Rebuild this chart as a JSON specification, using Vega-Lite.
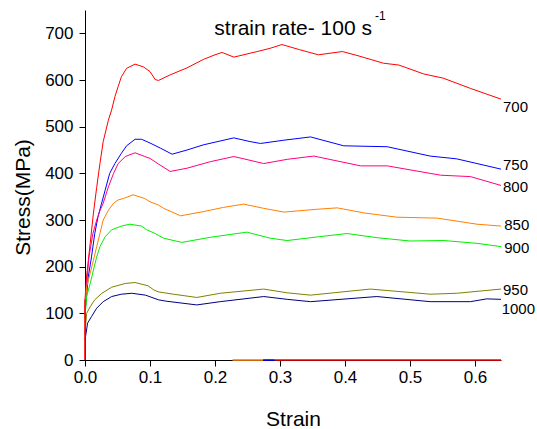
{
  "$schema": "https://vega.github.io/schema/vega-lite/v6.json",
  "width": 416,
  "height": 350,
  "autosize": {"type": "none"},
  "padding": {"left": 85, "top": 10, "right": 36, "bottom": 69},
  "background": "white",
  "config": {
    "view": {"stroke": null},
    "font": "Liberation Sans",
    "axis": {"grid": false, "domainColor": "black", "tickColor": "black", "labelColor": "black", "titleColor": "black", "labelFont": "Liberation Sans", "titleFont": "Liberation Sans", "titleFontWeight": "normal", "domainWidth": 1, "tickWidth": 1}
  },
  "datasets": {
    "curves": [
      {"T": "700", "s": 0, "v": 130}, {"T": "700", "s": 0.0025, "v": 180}, {"T": "700", "s": 0.008, "v": 250}, {"T": "700", "s": 0.013, "v": 315}, {"T": "700", "s": 0.018, "v": 370}, {"T": "700", "s": 0.023, "v": 421}, {"T": "700", "s": 0.028, "v": 468}, {"T": "700", "s": 0.036, "v": 514}, {"T": "700", "s": 0.041, "v": 536}, {"T": "700", "s": 0.046, "v": 564}, {"T": "700", "s": 0.051, "v": 586}, {"T": "700", "s": 0.056, "v": 607}, {"T": "700", "s": 0.064, "v": 625}, {"T": "700", "s": 0.077, "v": 634}, {"T": "700", "s": 0.09, "v": 628}, {"T": "700", "s": 0.1, "v": 618}, {"T": "700", "s": 0.108, "v": 601}, {"T": "700", "s": 0.113, "v": 599}, {"T": "700", "s": 0.131, "v": 611}, {"T": "700", "s": 0.157, "v": 626}, {"T": "700", "s": 0.182, "v": 644}, {"T": "700", "s": 0.2, "v": 654}, {"T": "700", "s": 0.211, "v": 659}, {"T": "700", "s": 0.229, "v": 649}, {"T": "700", "s": 0.265, "v": 661}, {"T": "700", "s": 0.285, "v": 668}, {"T": "700", "s": 0.303, "v": 676}, {"T": "700", "s": 0.33, "v": 665}, {"T": "700", "s": 0.359, "v": 654}, {"T": "700", "s": 0.396, "v": 661}, {"T": "700", "s": 0.42, "v": 652}, {"T": "700", "s": 0.459, "v": 636}, {"T": "700", "s": 0.483, "v": 632}, {"T": "700", "s": 0.521, "v": 613}, {"T": "700", "s": 0.551, "v": 604}, {"T": "700", "s": 0.593, "v": 582}, {"T": "700", "s": 0.64, "v": 559},
      {"T": "750", "s": 0, "v": 100}, {"T": "750", "s": 0.005, "v": 178}, {"T": "750", "s": 0.01, "v": 221}, {"T": "750", "s": 0.015, "v": 271}, {"T": "750", "s": 0.02, "v": 307}, {"T": "750", "s": 0.025, "v": 333}, {"T": "750", "s": 0.031, "v": 364}, {"T": "750", "s": 0.038, "v": 400}, {"T": "750", "s": 0.046, "v": 421}, {"T": "750", "s": 0.056, "v": 443}, {"T": "750", "s": 0.064, "v": 459}, {"T": "750", "s": 0.077, "v": 473}, {"T": "750", "s": 0.087, "v": 473}, {"T": "750", "s": 0.1, "v": 465}, {"T": "750", "s": 0.116, "v": 454}, {"T": "750", "s": 0.134, "v": 441}, {"T": "750", "s": 0.157, "v": 450}, {"T": "750", "s": 0.182, "v": 461}, {"T": "750", "s": 0.229, "v": 476}, {"T": "750", "s": 0.254, "v": 468}, {"T": "750", "s": 0.27, "v": 464}, {"T": "750", "s": 0.306, "v": 471}, {"T": "750", "s": 0.347, "v": 478}, {"T": "750", "s": 0.398, "v": 459}, {"T": "750", "s": 0.465, "v": 457}, {"T": "750", "s": 0.531, "v": 437}, {"T": "750", "s": 0.572, "v": 431}, {"T": "750", "s": 0.64, "v": 409},
      {"T": "800", "s": 0, "v": 110}, {"T": "800", "s": 0.003, "v": 170}, {"T": "800", "s": 0.006, "v": 220}, {"T": "800", "s": 0.012, "v": 270}, {"T": "800", "s": 0.018, "v": 300}, {"T": "800", "s": 0.023, "v": 320}, {"T": "800", "s": 0.028, "v": 336}, {"T": "800", "s": 0.036, "v": 371}, {"T": "800", "s": 0.044, "v": 400}, {"T": "800", "s": 0.051, "v": 421}, {"T": "800", "s": 0.062, "v": 436}, {"T": "800", "s": 0.077, "v": 444}, {"T": "800", "s": 0.092, "v": 436}, {"T": "800", "s": 0.1, "v": 432}, {"T": "800", "s": 0.113, "v": 420}, {"T": "800", "s": 0.131, "v": 404}, {"T": "800", "s": 0.157, "v": 411}, {"T": "800", "s": 0.193, "v": 425}, {"T": "800", "s": 0.229, "v": 436}, {"T": "800", "s": 0.275, "v": 421}, {"T": "800", "s": 0.311, "v": 430}, {"T": "800", "s": 0.352, "v": 437}, {"T": "800", "s": 0.424, "v": 416}, {"T": "800", "s": 0.465, "v": 416}, {"T": "800", "s": 0.547, "v": 396}, {"T": "800", "s": 0.593, "v": 393}, {"T": "800", "s": 0.64, "v": 374},
      {"T": "850", "s": 0, "v": 100}, {"T": "850", "s": 0.0025, "v": 157}, {"T": "850", "s": 0.008, "v": 186}, {"T": "850", "s": 0.013, "v": 214}, {"T": "850", "s": 0.018, "v": 243}, {"T": "850", "s": 0.023, "v": 271}, {"T": "850", "s": 0.028, "v": 300}, {"T": "850", "s": 0.036, "v": 321}, {"T": "850", "s": 0.044, "v": 336}, {"T": "850", "s": 0.051, "v": 343}, {"T": "850", "s": 0.059, "v": 346}, {"T": "850", "s": 0.074, "v": 354}, {"T": "850", "s": 0.092, "v": 346}, {"T": "850", "s": 0.1, "v": 339}, {"T": "850", "s": 0.113, "v": 332}, {"T": "850", "s": 0.121, "v": 325}, {"T": "850", "s": 0.147, "v": 309}, {"T": "850", "s": 0.182, "v": 318}, {"T": "850", "s": 0.213, "v": 327}, {"T": "850", "s": 0.244, "v": 334}, {"T": "850", "s": 0.275, "v": 325}, {"T": "850", "s": 0.306, "v": 317}, {"T": "850", "s": 0.357, "v": 323}, {"T": "850", "s": 0.388, "v": 326}, {"T": "850", "s": 0.43, "v": 315}, {"T": "850", "s": 0.48, "v": 306}, {"T": "850", "s": 0.542, "v": 304}, {"T": "850", "s": 0.603, "v": 291}, {"T": "850", "s": 0.64, "v": 287},
      {"T": "900", "s": 0, "v": 90}, {"T": "900", "s": 0.0025, "v": 136}, {"T": "900", "s": 0.008, "v": 164}, {"T": "900", "s": 0.013, "v": 193}, {"T": "900", "s": 0.018, "v": 221}, {"T": "900", "s": 0.023, "v": 243}, {"T": "900", "s": 0.031, "v": 264}, {"T": "900", "s": 0.041, "v": 279}, {"T": "900", "s": 0.056, "v": 287}, {"T": "900", "s": 0.069, "v": 291}, {"T": "900", "s": 0.087, "v": 287}, {"T": "900", "s": 0.095, "v": 279}, {"T": "900", "s": 0.108, "v": 271}, {"T": "900", "s": 0.121, "v": 261}, {"T": "900", "s": 0.149, "v": 252}, {"T": "900", "s": 0.193, "v": 263}, {"T": "900", "s": 0.249, "v": 274}, {"T": "900", "s": 0.285, "v": 261}, {"T": "900", "s": 0.311, "v": 256}, {"T": "900", "s": 0.359, "v": 264}, {"T": "900", "s": 0.403, "v": 271}, {"T": "900", "s": 0.45, "v": 262}, {"T": "900", "s": 0.5, "v": 255}, {"T": "900", "s": 0.552, "v": 256}, {"T": "900", "s": 0.603, "v": 250}, {"T": "900", "s": 0.64, "v": 243},
      {"T": "950", "s": 0, "v": 57}, {"T": "950", "s": 0.0025, "v": 100}, {"T": "950", "s": 0.008, "v": 114}, {"T": "950", "s": 0.015, "v": 129}, {"T": "950", "s": 0.026, "v": 143}, {"T": "950", "s": 0.041, "v": 156}, {"T": "950", "s": 0.062, "v": 164}, {"T": "950", "s": 0.077, "v": 166}, {"T": "950", "s": 0.097, "v": 159}, {"T": "950", "s": 0.106, "v": 150}, {"T": "950", "s": 0.113, "v": 146}, {"T": "950", "s": 0.136, "v": 141}, {"T": "950", "s": 0.172, "v": 134}, {"T": "950", "s": 0.208, "v": 143}, {"T": "950", "s": 0.275, "v": 152}, {"T": "950", "s": 0.311, "v": 144}, {"T": "950", "s": 0.347, "v": 139}, {"T": "950", "s": 0.439, "v": 152}, {"T": "950", "s": 0.531, "v": 141}, {"T": "950", "s": 0.572, "v": 143}, {"T": "950", "s": 0.64, "v": 152},
      {"T": "1000", "s": 0, "v": 43}, {"T": "1000", "s": 0.004, "v": 79}, {"T": "1000", "s": 0.01, "v": 93}, {"T": "1000", "s": 0.018, "v": 111}, {"T": "1000", "s": 0.028, "v": 125}, {"T": "1000", "s": 0.041, "v": 136}, {"T": "1000", "s": 0.056, "v": 141}, {"T": "1000", "s": 0.072, "v": 143}, {"T": "1000", "s": 0.093, "v": 139}, {"T": "1000", "s": 0.113, "v": 129}, {"T": "1000", "s": 0.125, "v": 126}, {"T": "1000", "s": 0.172, "v": 118}, {"T": "1000", "s": 0.208, "v": 125}, {"T": "1000", "s": 0.275, "v": 136}, {"T": "1000", "s": 0.311, "v": 130}, {"T": "1000", "s": 0.347, "v": 125}, {"T": "1000", "s": 0.449, "v": 136}, {"T": "1000", "s": 0.531, "v": 125}, {"T": "1000", "s": 0.593, "v": 125}, {"T": "1000", "s": 0.618, "v": 131}, {"T": "1000", "s": 0.64, "v": 130}
    ],
    "segments": [
      {"T": "700", "s": 0, "s2": 0, "v": 0, "v2": 130},
      {"T": "850", "s": 0.227, "s2": 0.274, "v": 0, "v2": 0},
      {"T": "750", "s": 0.274, "s2": 0.292, "v": 0, "v2": 0},
      {"T": "700", "s": 0.292, "s2": 0.64, "v": 0, "v2": 0}
    ],
    "labels": [
      {"T": "700", "s": 0.643, "v": 542},
      {"T": "750", "s": 0.643, "v": 418},
      {"T": "800", "s": 0.643, "v": 371},
      {"T": "850", "s": 0.645, "v": 289},
      {"T": "900", "s": 0.645, "v": 240},
      {"T": "950", "s": 0.643, "v": 150},
      {"T": "1000", "s": 0.641, "v": 110}
    ],
    "title": [
      {"text": "strain rate- 100 s", "s": 0.199, "v": 696}
    ],
    "sup": [
      {"text": "-1", "s": 0.446, "v": 729}
    ]
  },
  "layer": [
    {
      "data": {"name": "curves"},
      "mark": {"type": "line", "strokeWidth": 1, "interpolate": "linear"},
      "encoding": {
        "x": {"field": "s", "type": "quantitative",
          "scale": {"domain": [0, 0.64], "nice": false, "zero": false},
          "axis": {"title": "Strain", "values": [0, 0.05, 0.1, 0.15, 0.2, 0.25, 0.3, 0.35, 0.4, 0.45, 0.5, 0.55, 0.6],
            "labelExpr": "round(datum.value*100) % 10 == 0 ? format(datum.value, '.1f') : ''",
            "tickSize": {"condition": {"test": "round(datum.value*100) % 10 == 0", "value": 6}, "value": 3},
            "labelFontSize": 17, "labelPadding": 3, "titleFontSize": 21, "titleY": 65, "titleBaseline": "alphabetic", "labelFlush": false, "labelOverlap": false}},
        "y": {"field": "v", "type": "quantitative",
          "scale": {"domain": [0, 750], "nice": false, "zero": true},
          "axis": {"title": "Stress(MPa)", "values": [0, 50, 100, 150, 200, 250, 300, 350, 400, 450, 500, 550, 600, 650, 700, 750],
            "labelExpr": "datum.value % 100 == 0 ? datum.label : ''",
            "tickSize": {"condition": {"test": "datum.value % 100 == 0", "value": 6}, "value": 3},
            "labelFontSize": 17, "labelPadding": 6, "titleFontSize": 21, "titleX": -56, "titleY": 187, "titleAngle": -90, "titleAlign": "center", "titleBaseline": "alphabetic", "labelFlush": false, "labelOverlap": false}},
        "color": {"field": "T", "type": "nominal", "legend": null,
          "scale": {"domain": ["700", "750", "800", "850", "900", "950", "1000"], "range": ["#FF0000", "#0000FF", "#FF0080", "#FF8000", "#00EE00", "#808000", "#000080"]}}
      }
    },
    {
      "data": {"name": "segments"},
      "mark": {"type": "rule", "strokeWidth": 1.6},
      "encoding": {
        "x": {"field": "s", "type": "quantitative"},
        "x2": {"field": "s2"},
        "y": {"field": "v", "type": "quantitative"},
        "y2": {"field": "v2"},
        "color": {"field": "T", "type": "nominal", "legend": null}
      }
    },
    {
      "data": {"name": "labels"},
      "mark": {"type": "text", "align": "left", "baseline": "middle", "fontSize": 15, "font": "Liberation Sans", "color": "black"},
      "encoding": {
        "x": {"field": "s", "type": "quantitative"},
        "y": {"field": "v", "type": "quantitative"},
        "text": {"field": "T"}
      }
    },
    {
      "data": {"name": "title"},
      "mark": {"type": "text", "align": "left", "baseline": "alphabetic", "fontSize": 21, "font": "Liberation Sans", "color": "black"},
      "encoding": {
        "x": {"field": "s", "type": "quantitative"},
        "y": {"field": "v", "type": "quantitative"},
        "text": {"field": "text"}
      }
    },
    {
      "data": {"name": "sup"},
      "mark": {"type": "text", "align": "left", "baseline": "alphabetic", "fontSize": 12, "font": "Liberation Sans", "color": "black"},
      "encoding": {
        "x": {"field": "s", "type": "quantitative"},
        "y": {"field": "v", "type": "quantitative"},
        "text": {"field": "text"}
      }
    }
  ]
}
